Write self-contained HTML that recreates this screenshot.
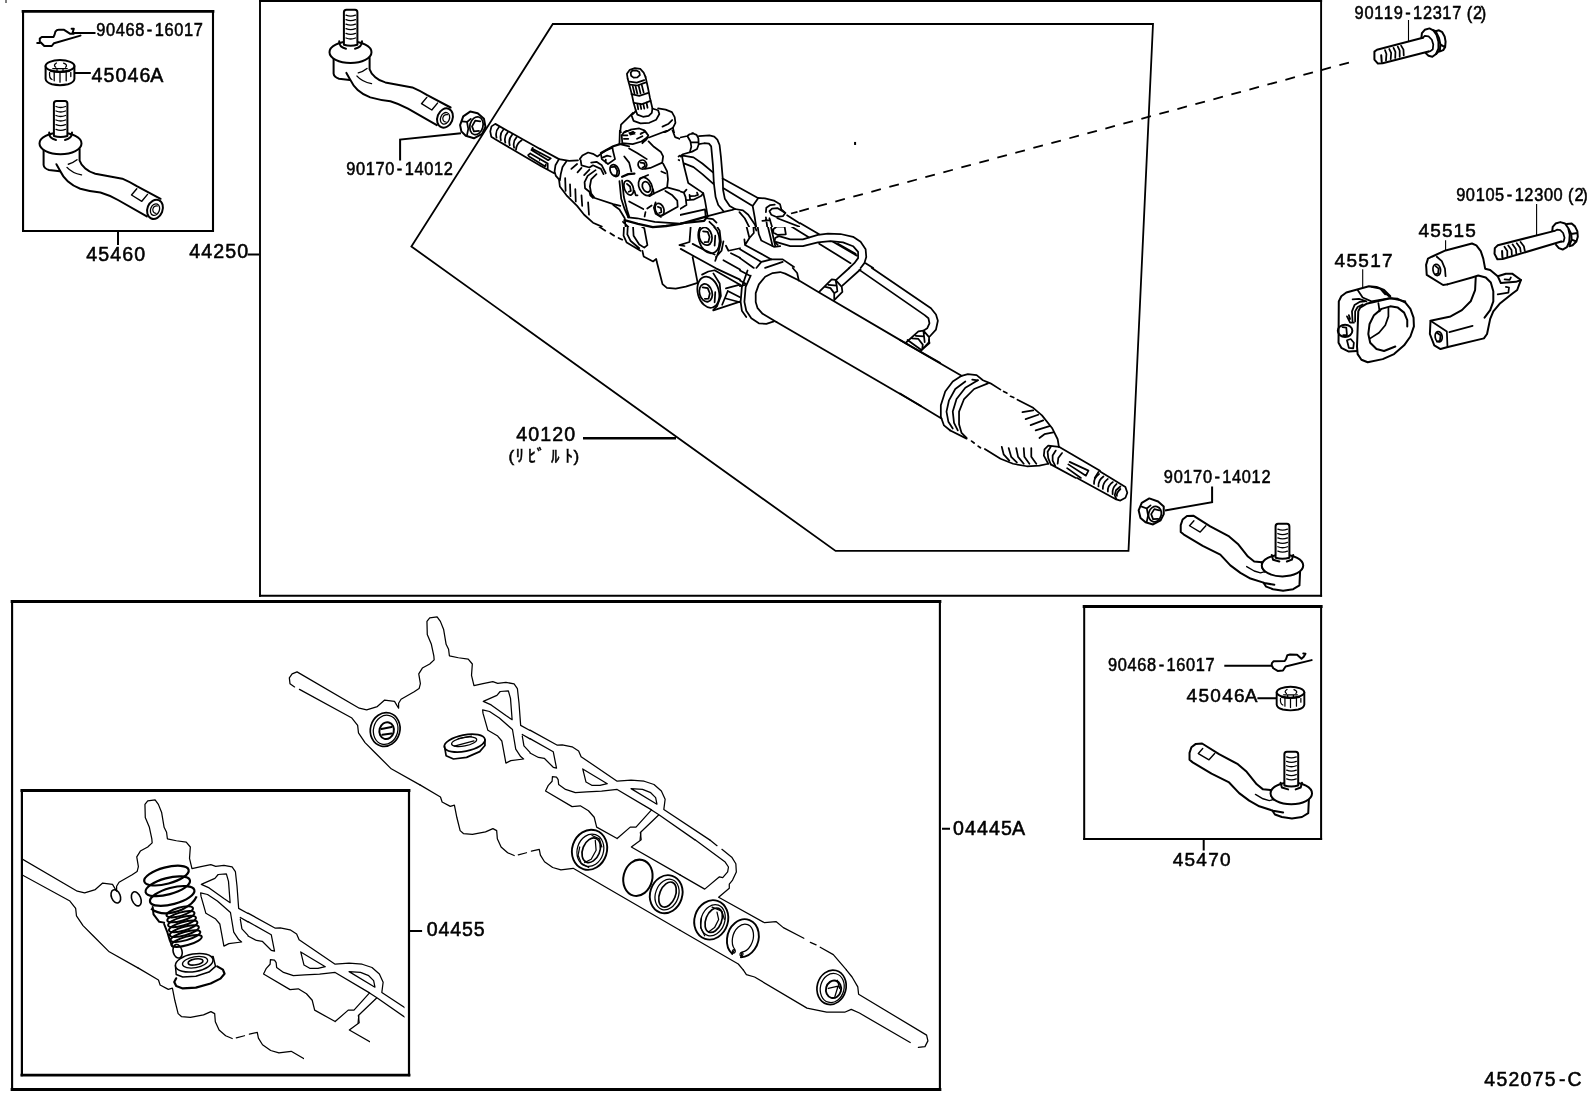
<!DOCTYPE html>
<html lang="ja">
<head>
<meta charset="utf-8">
<title>452075-C</title>
<style>
html,body{margin:0;padding:0;background:#fff;}
body{width:1592px;height:1099px;overflow:hidden;position:relative;}
svg{position:absolute;left:0;top:0;display:block;}
text{font-family:"Liberation Sans","Noto Sans CJK JP",sans-serif;fill:#000;}
.bx{fill:none;stroke:#000;stroke-width:2;}
.ln{fill:none;stroke:#000;stroke-width:1.75;stroke-linecap:round;stroke-linejoin:round;}
.lw{fill:#fff;stroke:#000;stroke-width:1.75;stroke-linecap:round;stroke-linejoin:round;}
.tk{fill:none;stroke:#000;stroke-width:2;stroke-linecap:round;stroke-linejoin:round;}
.tw{fill:#fff;stroke:#000;stroke-width:2;stroke-linecap:round;stroke-linejoin:round;}
.ld{fill:none;stroke:#000;stroke-width:1.5;}
.th{fill:none;stroke:#000;stroke-width:1.25;stroke-linecap:round;stroke-linejoin:round;}
.tf{fill:#fff;stroke:#000;stroke-width:1.25;stroke-linecap:round;stroke-linejoin:round;}
.v *{vector-effect:non-scaling-stroke;}
text{stroke:#000;stroke-width:0.55px;}
</style>
</head>
<body>
<svg width="1592" height="1099" viewBox="0 0 1592 1099">
<rect x="0" y="0" width="1592" height="1099" fill="#fff"/>
<defs>
<g id="clipA">
<path class="tk" d="M37.2,43 L39.8,43 M39.8,42.6 L39.8,38.6 L41.8,36.9 L53.6,36.9 Q54.8,34.5 55.4,31.6 Q56.8,29.8 58.7,29.8 L64.1,29.8 L70.3,33.8 L73.7,33.8 M39.8,41.5 L44.3,46 L51.8,46 L54,43.2 L80.5,35.6 M71.6,28.8 L73.8,28.8 L72.6,32.8"/>
</g>
<g id="nutA">
<path class="tw" d="M45.6,66 L45.6,79 Q46,82.5 52,84.3 Q60,86 68,84.3 Q74,82.5 74.4,79 L74.4,66 Z"/>
<ellipse class="tw" cx="60" cy="66" rx="14.4" ry="5.9"/>
<path class="tk" style="stroke-width:1.3" d="M56.4,63 Q52.8,65.2 55.8,67.2 M63.6,63.2 Q68.2,65 65.6,67.2 M52.8,68.7 L67.2,68.7 M54.2,71.5 L54.2,80.8 M60,72 L60,82.2 M66.2,71.5 L66.2,80.8 M49.6,72.5 Q49,78.5 52,79.5 M70.8,72.5 L70.8,76.5 M57,71 L57,68.7 M63,71 L63,68.7"/>
<path class="tk" style="stroke-width:2.4" d="M51,70.8 Q60,73 69,70.8"/>
</g>
<g id="tieA">
<path class="tw" d="M43.6,148 L43.6,165 Q44,168.5 49,170 L60,171.5 L79.6,160 L79.6,148 Z" style="stroke:none"/>
<path class="tk" d="M43.6,149 L43.6,165 Q44,168.5 49,170 L59.8,171.3"/>
<path class="tk" d="M56.4,164.2 Q58,167 60.2,171 Q63,177 67.7,181.2 Q73,186 80.3,188.7 Q90,191.5 100.4,192.5 Q109,195 118,200 L146.8,216.4"/>
<path class="tk" d="M79.6,149 L79.6,160.5 Q81,165 85.3,168.6 Q89,172 95.3,173.7 Q108,176 122.3,178.7 Q130,182 136.8,186.2 L160.6,198.8"/>
<ellipse class="tw" cx="155" cy="209.3" rx="7.6" ry="9.9" transform="rotate(22 155 209.3)"/>
<ellipse class="tk" cx="155" cy="209.6" rx="4.4" ry="6" transform="rotate(22 155 209.6)" style="stroke-width:1.3"/>
<path class="tk" d="M157.5,206 Q153.5,205.5 152.8,209.5 Q152.8,213 156,213.3" style="stroke-width:1.2"/>
<path class="tk" d="M136.8,188.7 L131.5,195 L141.8,201.3 L147.5,194.4" style="stroke-width:1.4"/>
<path class="tk" d="M77,159.8 Q73,163 68.3,164.2 M67,167.4 Q72,173 81.5,174.9" style="stroke-width:1.4"/>
<ellipse class="tw" cx="60.5" cy="143.5" rx="21" ry="10.7"/>
<path class="tk" d="M49.2,132.5 Q49,138.5 56,140 M72,132.5 Q72,138.5 65,140" />
<path class="tw" d="M53.9,136 L53.9,103.5 Q53.9,101 56.5,101 L65,101 Q67.4,101 67.4,103.5 L67.4,136 Q60.6,138 53.9,136 Z"/>
<path class="tk" style="stroke-width:1.3" d="M56,106.5 Q60.6,108.5 65.5,106.5 M56,111 Q60.6,113 65.5,111 M56,115.5 Q60.6,117.5 65.5,115.5 M56,120 Q60.6,122 65.5,120 M56,124.7 Q60.6,126.7 65.5,124.7 M56,129.3 Q60.6,131.3 65.5,129.3"/>
</g>
<g id="tieB">
<g class="v" transform="translate(1160,500) scale(0.125628)">
<path class="tw" d="M810,495 L815,540 L835,570 L825,660 L845,690 L900,710 L980,722 L1060,710 L1110,680 L1115,560 Z" style="stroke:none"/>
<path class="tk" d="M810,495 L750,490 L700,450 L620,350 L550,290 L400,210 L265,125 L215,128 L180,155 L165,200 L165,255 L190,275 L340,365 L480,435 L560,520 L640,580 L720,625 L830,660 L910,675"/>
<path class="tk" style="stroke-width:1.4" d="M270,165 L235,205 L320,255 L365,205 M690,530 L750,565 L800,580 L835,570"/>
<path class="tk" d="M810,495 L815,540 L835,570 M1115,570 L1110,680 L1060,710 L980,722 L900,710 L845,690 L825,660"/>
<ellipse class="tw" cx="975" cy="522" rx="165" ry="86"/>
<path class="tk" d="M890,438 L900,475 L950,490 M1060,438 L1050,475 L1010,490"/>
<path class="tw" d="M920,460 L920,210 Q920,190 940,190 L1010,190 Q1030,190 1030,210 L1030,460 Q975,475 920,460 Z"/>
<path class="tk" style="stroke-width:1.3" d="M938,232 Q975,248 1015,232 M938,267 Q975,283 1015,267 M938,302 Q975,318 1015,302 M938,337 Q975,353 1015,337 M938,372 Q975,388 1015,372 M938,407 Q975,423 1015,407"/>
</g>
</g>
<g id="kitO">
<g class="v" transform="translate(270,605) scale(0.163827)">
<path class="th" d="M150,500 L122,480 L118,445 L135,420 L165,408 L545,630 L590,640 L655,620 L700,580 L760,588 L785,630 L785,600 L800,575 L880,530 L910,510 L918,480 L908,420 L930,385 L975,360 L1002,335 L1000,310 L985,240 L960,180 L958,100 L975,78 L1020,72 L1040,100 L1060,150 L1075,240 L1090,270 L1095,310 L1150,322 L1210,330 L1235,360 L1230,430 L1245,492 L1300,480 L1360,468 L1390,478 L1440,472 L1490,482 L1510,510 L1520,600 L1530,735 L1587,766"/>
<path class="th" d="M180,515 L500,690 L535,735 L540,780 L580,840 L640,900 L740,1000 L915,1098"/>
<path class="th" d="M1302,588 L1385,552 L1405,528 L1455,524 L1468,570 L1478,700 L1440,675 L1350,610 Z"/>
<path class="th" d="M1298,640 L1340,650 L1400,690 L1480,760 L1500,880 L1530,925 L1548,940 L1470,950 L1440,965 L1415,830 L1390,800 L1330,765 L1300,660 Z M1540,790 L1587,817 M1540,800 L1550,860 L1587,900"/>
</g>
<g class="v" transform="translate(500,660) scale(0.163827)">
<path class="th" d="M183,428 L350,520 L380,518 L440,530 L480,555 L495,590 L715,740 L800,733 L880,740 L940,760 L985,800 L1008,850 L1000,912 L1280,1098"/>
<path class="th" d="M183,480 L325,560 L345,660 L325,655 L270,600 L235,595 L183,568"/>
<path class="th" d="M715,1090 L795,1020 L830,1020 L925,915 L715,790 L620,800 L530,805 L460,810 L400,790 L358,760 L355,730 L345,715 L320,712 L318,740 L295,765 L278,800 L440,895 L490,890 L540,920 L575,960 L590,1020 L715,1090"/>
<path class="th" d="M505,665 L655,755 L610,765 L560,765 L525,745 Z M800,785 L870,790 L920,810 L950,840 L958,880 Z"/>
<path class="th" d="M925,915 L970,945 L860,1050 L855,1098 M970,945 L1190,1098"/>
</g>
<g class="v" transform="translate(420,770) scale(0.163827)">
<path class="th" d="M0,91 L125,165 L135,195 L185,222 L210,215 L225,290 L245,370 L265,388 L320,393 L400,378 L445,358 L468,370 L472,420 L495,470 L535,505 L575,522 M600,518 L650,505 M680,495 L728,485 L735,520 L760,560 L810,595 L860,610 L935,600 L1587,978"/>
<path class="th" d="M1345,380 L1350,425 L1290,470 L1587,640"/>
</g>
<g class="v" transform="translate(640,790) scale(0.163827)">
<path class="th" d="M425,304 L470,340 M500,362 L560,410 L585,450 L588,500 L565,550 L545,575 L545,600 L480,655 L760,810 L830,803 L875,840 L1000,905 M1040,930 L1075,945 M1100,960 L1180,1005 L1260,1098"/>
<path class="th" d="M336,304 L520,440 L540,470 L535,500 L505,535 L485,530 L395,605 L244,518 M244,856 L600,1062 L630,1098"/>
</g>
<g class="v" transform="translate(730,900) scale(0.163827)">
<path class="th" d="M81,427 L100,455 L150,470 L470,660 L590,685 L700,685 L740,668 L790,690 L1100,870 M1150,900 L1190,895 L1208,860 L1200,825 L785,575 L780,530 L745,470 L710,427"/>
</g>
</g>
<clipPath id="insetClip"><polygon points="23,791 404.5,791 404.5,1025 370,1025 370,1051 304,1051 304,1074 23,1074"/></clipPath>
<clipPath id="exG1"><path clip-rule="evenodd" d="M0,0 H1592 V1099 H0 Z M540,133 H800 V227 H540 Z"/></clipPath>
</defs>
<!-- FRAMES -->
<g id="frames" fill="none" stroke="#000" stroke-linecap="square">
<line x1="6" y1="0" x2="6" y2="2.5" stroke-width="1"/>
<!-- box 45460 -->
<path stroke-width="2.7" d="M23,11.35 H213"/><path stroke-width="1.9" d="M23,231 H213"/>
<path stroke-width="2.1" d="M23.05,11.35 V231 M213,11.35 V231"/>
<!-- box 44250 -->
<path stroke-width="2" d="M260,1 H1321.1 M260,595.8 H1321.1"/>
<path stroke-width="1.9" d="M260,1 V595.8 M1321.1,1 V595.8"/>
<!-- box 45470 -->
<path stroke-width="3" d="M1084.2,606.5 H1321.1"/><path stroke-width="2" d="M1084.2,838.9 H1321.1"/>
<path stroke-width="2" d="M1084.2,606.5 V838.9 M1321.1,606.5 V838.9"/>
<!-- box 04445A -->
<path stroke-width="2.9" d="M12.1,601.45 H939.9 M12.1,1089.5 H939.9"/>
<path stroke-width="2.1" d="M12.1,601.45 V1089.5 M939.9,601.45 V1089.5"/>
<!-- box 04455 -->
<path stroke-width="2.8" d="M21.9,790.5 H409 M21.9,1075.1 H409"/>
<path stroke-width="2.2" d="M21.9,790.5 V1075.1 M409,790.5 V1075.1"/>
<polygon points="552.8,24 1153,24 1128.5,550.9 835.6,550.9 411.4,246.5" stroke-width="1.8" stroke-linecap="butt"/>
</g>
<!-- LEADERS -->
<g id="leaders">
<path class="ld" style="stroke-width:2" d="M72.5,33 L95.5,33 M74.7,73 L90.8,73 M118,232 L118,245 M942,828.7 L950,828.7 M410,930.9 L422.1,930.9 M1224.3,665.8 L1272,665.8 M1257.4,698.3 L1276.3,698.3 M1203.7,840 L1203.7,850.6 M247.5,254.5 L259,254.5 M400.1,160.4 L400.1,139.6 L461,133.3 M1212.1,486.5 L1212.1,502.2 L1165,510.4"/>
<path class="ld" style="stroke-width:2.6" d="M583,438.3 L676,438.3"/>
</g>
<!-- PARTS -->
<g id="parts">
<use href="#clipA"/>
<use href="#nutA"/>
<use href="#tieA"/>
<use href="#tieA" transform="translate(290,-91.3)"/>
<use href="#tieB"/>
<use href="#tieB" transform="translate(8.8,227.8)"/>
<use href="#nutA" transform="translate(1290.5,698.9) scale(0.96,0.94) translate(-60,-73)"/>
<g class="v" transform="translate(1200,640) scale(0.08826)">
<path class="tk" d="M812,285 L815,262 L835,240 L960,238 L975,215 L990,172 L1020,165 L1100,168 L1150,212 L1175,190 L1195,155 L1170,152 M812,285 L830,320 L880,350 L940,345 L970,300 L1265,228"/>
</g>
</g>
<!-- gearA -->
<g clip-path="url(#exG1)">
<g class="v" transform="translate(540,60) scale(0.125628)">
<path class="ln" d="M698,150 L692,110 L715,78 L755,65 L798,70 L825,100 L840,135"/>
<path class="ln" d="M722,100 L735,85 L765,82 L790,95 L795,120 L775,138 L745,140 L725,125 Z"/>
<path class="ln" d="M698,150 L712,200 L730,270 L745,340 L762,400 M840,135 L858,215 L875,300 L895,385"/>
<path class="ln" d="M712,172 L770,180 L830,160 M716,196 L775,203 L838,180 M728,272 L790,285 L862,262 M746,342 L810,352 L880,325"/>
<path class="ln" d="M738,208 L752,265 M760,207 L775,268 M785,203 L800,265 M810,198 L825,258 M775,352 L782,392 M798,352 L806,390 M822,347 L830,387 M848,340 L856,380"/>
<path class="ln" d="M762,400 L775,435 L820,452 L865,445 L890,420 L895,385"/>
<path class="ln" d="M760,410 L728,440 L745,485 L800,505 L870,500 L925,475 L950,430 L940,400 L900,388"/>
<path class="ln" d="M740,420 L690,470 L645,515 L640,560 L648,600 L632,660"/>
<path class="ln" d="M940,385 L1000,395 L1050,415 L1072,455 L1078,500 L1058,540"/>
<path class="ln" d="M875,612 L960,590 L1020,562 L1058,540 L1080,630 L1130,612 L1180,600"/>
<path class="ln" d="M975,530 L1020,510 L1052,478"/>
<path class="ln" d="M650,600 L670,575 L720,555 L790,545 L830,560 L862,600 L840,640 L770,665 L700,672 L655,655 Z"/>
<path class="ln" d="M700,590 L740,572 L765,588 L730,606 Z M665,630 L700,625 M790,590 L820,580 M812,662 L858,612"/>
<!-- fitting nub and pipe -->
<path class="ln" d="M1180,600 L1215,582 L1248,600 L1265,650 L1250,700 L1215,722 L1195,720 M1180,600 L1200,660 L1195,720"/>
<path class="ln" d="M1268,608 L1380,598 L1418,628 L1435,700 L1450,860 L1462,938 L1592,1000"/>
<path class="ln" d="M1265,690 L1350,665 L1366,720 L1385,900 L1398,1000 L1410,1098"/>
<path class="ln" d="M1195,720 L1120,760 L1100,800 M1120,760 L1185,965 L1300,1040 L1310,1098"/>
<path class="ln" d="M1130,770 L1240,810 L1390,905 M1140,832 L1260,895 L1395,995 M1460,940 L1592,1005 M1470,985 L1592,1045"/>
<!-- valve body -->
<path class="ln" d="M632,660 L560,690 L490,730 M870,640 L960,740 L985,810 L860,870 M710,700 L790,740 L850,790 M672,770 L715,820 L730,890"/>
<path class="ln" d="M585,700 L600,790 L560,850 L545,900 L560,940 L640,935 L750,905"/>
<path class="ln" d="M960,870 L1010,900 L1022,1000 L905,1060 M1022,1010 L1160,1050 L1180,1098 M965,880 L990,920"/>
<ellipse class="ln" cx="820" cy="830" rx="42" ry="38" transform="rotate(30 820 830)"/>
<path class="ln" d="M805,812 L835,815 L840,845 L815,850"/>
<ellipse class="ln" cx="595" cy="880" rx="38" ry="52" transform="rotate(-20 595 880)"/>
<path class="ln" d="M580,850 L610,870 L615,910 L590,915"/>
<ellipse class="ln" cx="845" cy="1000" rx="50" ry="70" transform="rotate(-25 845 1000)"/>
<path class="ln" d="M830,965 L865,990 L868,1040 L840,1045"/>
<ellipse class="ln" cx="705" cy="1015" rx="40" ry="65" transform="rotate(-20 705 1015)"/>
<path class="ln" d="M690,985 L720,1005 L725,1050 L700,1055 M640,940 L650,1098"/>
<!-- small fitting cluster left -->
<path class="ln" d="M490,730 L480,790 L510,850 L545,900 M500,760 L540,740 L575,760 L580,810 L545,830 L510,815 Z"/>
<path class="ln" d="M320,790 L350,750 L400,735 L450,760 L470,800 M330,830 L400,800 L450,815 M400,830 L440,870 L500,890 M330,790 L320,830 L345,860 L300,900"/>
<!-- boot left start -->
<path class="ln" d="M0,705 L180,805 L310,790 M0,790 L120,860 M0,740 L100,800 L70,830 L0,800"/>
<path class="ln" d="M130,830 L115,890 L140,945 M180,810 L160,870 L170,940 M140,945 L160,1010 L215,1098"/>
<path class="ln" d="M250,870 L300,830 M300,890 L330,850 M195,960 L200,1020 M240,990 L245,1060 M285,1030 L288,1098 M330,1070 L332,1098"/>
<path class="ln" d="M440,880 L390,920 L360,980 L375,1040 L420,1098 M470,900 L420,940 L400,1000 L410,1050"/>
</g>
</g>

<!-- _gearP1 -->
<svg x="540" y="130" width="140" height="97" viewBox="0 0 1586 1099" overflow="hidden">
<g class="v">
<path class="ln" d="M0,212 L215,330 L330,350 L430,345 M0,402 L160,490"/>
<path class="ln" d="M215,330 L175,400 L165,470 L180,520 L215,560 M300,355 L255,420 L235,500 L225,570"/>
<path class="ln" d="M215,560 L225,640 L300,740 L420,860 L500,960 L600,1050 L700,1095"/>
<path class="ln" d="M285,545 L290,690 M340,615 L345,750 M400,670 L405,810 M470,740 L478,860 M545,820 L555,960 M355,440 L420,385 M425,480 L470,430 M500,510 L560,450"/>
<path class="ln" d="M450,330 L480,290 L545,255 L600,270 L650,300 L690,270 M460,340 L470,400 L560,425 L600,400 L690,440 L720,500 M580,370 L640,360 L700,400 L745,490"/>
<path class="ln" d="M690,270 L760,225 L820,200 L830,250 L850,330 L770,385 L700,330 Z M715,310 L760,290 L800,300 M745,335 L745,370"/>
<ellipse class="ln" cx="845" cy="460" rx="48" ry="70" transform="rotate(-25 845 460)"/>
<path class="ln" d="M810,420 L850,415 L875,460 L870,510 L840,515"/>
<path class="ln" d="M630,455 L540,520 L505,590 L510,660 L560,700 L570,740 L600,770 M640,500 L580,560 L565,640 L580,720 L620,770 L830,840 L910,860"/>
<path class="ln" d="M900,580 L920,780 L960,900 L1000,990 M930,570 L950,760 L985,900 L1010,980"/>
<ellipse class="ln" cx="1005" cy="655" rx="50" ry="85" transform="rotate(-20 1005 655)"/>
<path class="ln" d="M985,610 L1020,640 L1030,690 L1005,700 M1070,690 L1085,740 L1105,740"/>
<ellipse class="ln" cx="1195" cy="640" rx="72" ry="108" transform="rotate(-25 1195 640)"/>
<ellipse class="ln" cx="1205" cy="645" rx="42" ry="62" transform="rotate(-25 1205 645)"/>
<path class="ln" d="M1130,550 L1225,510 M1280,670 L1290,720 M1010,810 L1170,895 M1215,890 L1265,855 M1195,930 L1185,980"/>
<ellipse class="ln" cx="1355" cy="900" rx="48" ry="72" transform="rotate(-20 1355 900)"/>
<path class="ln" d="M1335,870 L1370,885 L1375,930 L1350,940 M1310,820 L1290,880 L1310,950 L1370,985"/>
<path class="ln" d="M1230,130 L1290,190 L1370,250 L1395,300 L1385,370 L1250,430 L1190,440 M1395,380 L1440,470 L1450,560 L1440,650 L1290,720 L1240,750 M1375,470 L1420,490 M1440,650 L1586,690 M1420,690 L1500,740 L1555,800 L1560,870 L1380,970"/>
<path class="ln" d="M1000,990 L1100,1000 L1300,1040 L1586,1060"/>
<path class="ln" style="stroke-width:2.2" d="M930,530 L1000,500 L1070,495 M690,260 L830,185 L905,160"/>
<path class="ln" d="M830,850 L900,900 L960,1000 L970,1098 M940,1040 L1000,1098"/>
<path class="ln" d="M905,160 L1010,185 M905,0 L900,160 M950,100 L1000,100 M940,60 L990,60 M930,150 L1050,160 L1150,130 L1220,80 M1160,150 L1215,95 M1235,85 L1460,0 M1500,0 L1530,80 L1586,100"/>
<path class="ln" d="M1010,210 L1100,260 L1210,330 M955,300 L1010,370 L1035,470 M1570,300 L1586,290 M1570,340 L1586,345"/>
<ellipse class="ln" cx="1160" cy="392" rx="48" ry="52" transform="rotate(-25 1160 392)"/>
<path class="ln" d="M1140,370 L1180,375 L1190,410 L1160,428"/>
<path d="M1000,30 L1060,18 L1085,48 L1020,62 Z" fill="#000"/>
<path class="ln" d="M925,61 L954,25 L1025,0 M1181,4 L1227,61 L1196,118 M932,139 L925,61"/>
<path class="ln" d="M1140,45 L1185,20 M960,20 L1000,0 M1100,100 L1160,70"/>
</g>
</svg>

<!-- _gearP2 -->
<svg x="680" y="130" width="120" height="97" viewBox="227 0 1359 1099" overflow="hidden">
<g class="v">
<path class="ln" d="M140,0 L175,95 L230,85 L310,68 L335,48 L375,40 L415,55 L435,95 L438,165 L420,215 L365,245 L260,275 L215,305 L210,345 M310,68 L345,130 L355,190 L340,245 M350,140 L435,140 M235,300 L255,285"/>
<path class="ln" d="M440,70 L560,62 L615,75 L650,110 L675,170 L690,300 L710,540 L715,680 L735,780 L790,860 L850,895"/>
<path class="ln" d="M440,160 L500,150 L555,155 L580,185 L600,400 L610,600 L630,760 L660,850 L720,920"/>
<path class="ln" d="M260,290 L380,310 L480,380 L600,480 M265,375 L380,420 L480,500 L605,610 M250,300 L270,400 L320,600 L490,715 L510,800 L540,975"/>
<path class="ln" d="M710,550 L1110,770 L1190,775 L1290,800 L1360,840 L1375,900 L1420,940 M720,660 L1050,860 L1110,775 M1050,860 L1075,1000 L1090,1098"/>
<path class="ln" d="M540,975 L735,925 L820,905 L850,895 L940,910 L1000,960 L1075,1070 L1085,1098 M900,930 L960,1000 L1010,1098"/>
<path class="ln" d="M0,690 L90,650 L270,710 L300,675 M270,710 L290,760 L300,850 L150,940 L60,980 M70,680 L170,760 L200,830 L205,870 M300,795 L380,790 L470,745 L490,715 M335,735 L340,780 M340,750 L400,745 L430,735 L420,710"/>
<path class="ln" d="M150,980 L510,900 L520,1000 M0,1000 L60,1030 L140,960 M0,950 L50,950 L60,920 M540,1000 L600,1010 L640,1050 M560,1040 L620,1098"/>
<path class="ln" style="stroke-width:2.2" d="M80,1075 L500,1030 L540,975"/>
<path class="ln" d="M1200,930 L1205,880 L1250,850 L1300,845 M1240,920 L1270,890 L1330,885 L1420,940 L1395,975 L1320,985 L1260,960 Z M1160,1030 L1250,1020 M1200,990 L1215,1098 M1240,1000 L1270,1098 M1330,1000 L1586,1098 M1440,965 L1586,1060"/>
<path class="ln" d="M0,230 L35,280 L30,370 L15,400 L70,470 L90,570 L90,650 M15,470 L60,500"/>
</g>
</svg>

<!-- _flange -->
<path class="ln" style="stroke-width:2.3" d="M624.5,220.2 L638,223.8 L652.8,227.1 L666,226 L680.4,223.9 L706.8,216.4"/>

<!-- gearB -->
<g clip-path="url(#exG1)">
<g class="v" transform="translate(540,198) scale(0.125628)">
<path class="ln" d="M220,0 L290,70 L400,180 L520,260 M560,280 L590,300 M625,318 L655,332"/>
<path class="ln" d="M330,0 L340,60 M380,40 L390,140 L410,180 M288,0 L292,30"/>
<path class="ln" d="M420,0 L560,40 L650,110 L670,170 M640,0 L690,170 M710,30 L820,85 M855,85 L890,60 M830,110 L835,160"/>
<ellipse class="ln" cx="955" cy="95" rx="38" ry="48" transform="rotate(-20 955 95)"/>
<path class="ln" d="M940,75 L970,88 L966,120 M890,88 L915,150 L975,165 L1050,130"/>
<path class="ln" d="M1060,0 L1100,60 L990,130 M1165,60 L1050,130 L1000,210 M1170,0 L1165,60 M1300,0 L1330,170"/>
<path class="ln" style="stroke-width:2" d="M690,170 L760,195 L880,225 L1000,222 L1200,195 L1330,170"/>
<path class="ln" d="M1330,170 L1480,100 L1592,85 M700,150 L840,165 L1010,135 L1310,90 M1400,0 L1430,60 L1480,100 M1470,0 L1520,60 L1592,90"/>
<path class="ln" d="M670,195 L665,300 L690,355 L800,420 M700,200 L695,290 L720,340 L790,400 M740,215 L745,300 L790,370 L830,395 L855,375 L830,240 M760,195 L830,240"/>
<path class="ln" d="M815,420 L825,465 L900,505 L925,485 L930,510 L975,685 L1010,715 L1080,722 L1160,705 L1255,675"/>
<path class="ln" d="M1200,220 L1190,350 L1110,375 L1150,382 M1120,405 L1230,465 L1400,560 L1592,650 M1215,365 L1300,410 L1390,450 M1215,470 L1255,675"/>
<ellipse class="ln" cx="1345" cy="320" rx="82" ry="122" transform="rotate(-15 1345 320)"/>
<ellipse class="ln" cx="1318" cy="305" rx="50" ry="72" transform="rotate(-15 1318 305)"/>
<path class="ln" d="M1298,265 L1335,270 L1350,310 L1340,350 L1310,352 M1380,180 L1430,260 L1440,350 L1420,430 L1395,500 M1460,345 L1445,420 L1400,470 M1395,300 L1390,380"/>
<ellipse class="ln" cx="1340" cy="750" rx="84" ry="126" transform="rotate(-15 1340 750)"/>
<ellipse class="ln" cx="1320" cy="755" rx="50" ry="72" transform="rotate(-15 1320 755)"/>
<path class="ln" d="M1295,712 L1335,718 L1352,760 L1342,800 L1312,802 M1290,610 L1340,585 L1390,575 L1592,690 M1380,600 L1430,680 L1440,780 L1410,860 L1380,890 M1395,750 L1390,830"/>
<path class="ln" d="M1380,895 L1592,825 M1495,740 L1592,790 M1480,800 L1592,830 M1495,740 L1450,850 M1480,720 L1592,690"/>
<path class="ln" d="M1480,380 L1500,420 L1592,400 M1520,440 L1592,475 M1460,495 L1592,570"/>
</g>
</g>

<!-- gearC -->
<g clip-path="url(#exG1)">
<g class="v" transform="translate(740,130) scale(0.125628)">
<path class="ln" d="M0,455 L150,545 L250,565 L320,600 L325,640 L362,668 M0,540 L110,600 L150,545 M110,600 L130,700 L150,830 L170,880 L270,930 L320,925"/>
<path class="ln" d="M205,650 L215,610 L250,590 L310,600 M240,640 L265,625 L325,640 L362,668 L330,690 L270,690 L240,665 Z"/>
<path class="ln" d="M180,720 L240,715 M205,695 L215,740 L260,925 M235,720 L280,920 M265,790 L290,770 L355,770 L365,830 L300,835 L265,815 Z M290,740 L350,740"/>
<path class="ln" d="M375,680 L630,830 M300,700 L550,855"/>
<path class="ln" d="M300,915 L275,890 L280,860 L310,845 L400,870 L500,870 L620,835 L700,825 L800,828 L900,850 L960,890 L1000,950 L1005,1010 L990,1060 L960,1098"/>
<path class="ln" d="M285,890 L400,925 L500,925 L620,895 L720,885 L820,895 L900,925 L940,970 L940,1020 L910,1060 L870,1098"/>
<path class="ln" d="M630,905 L880,1060 M740,890 L930,1000 M780,905 L920,985 M1000,1060 L1060,1098"/>
<path class="ln" d="M0,650 L30,640 L60,660 L110,740 L130,800 M0,670 L50,760 L75,860 L110,820 L105,740 M35,870 L40,915 L75,860 M40,915 L250,1030 L340,1030 L430,1090"/>
<path class="ln" d="M0,950 L170,1050 L130,1098 M0,1020 L110,1098 M170,1050 L250,1030 M200,1098 L340,1050"/>
<rect x="908" y="95" width="16" height="24" fill="#000"/>
</g>
</g>
<path d="M799.3,211.3 L1349,62.6" fill="none" stroke="#000" stroke-width="1.8" stroke-dasharray="9.9 8.75"/>
<path d="M791,213.5 L797.5,211.8" fill="none" stroke="#000" stroke-width="1.8"/>

<!-- tubeA -->
<g class="v" transform="translate(740,268) scale(0.125628)">
<path class="ln" d="M290,430 L180,365 L140,320 L125,270 L125,200 L150,130 L200,70 L260,40 L320,32 L360,45 L470,100 L630,195 L1320,600 L1592,755"/>
<path class="ln" d="M290,430 L1440,1098"/>
<path class="ln" d="M85,60 L45,150 L35,270 L50,340 L90,400 L150,440 L210,445 L270,425 M60,20 L15,150 L5,270 L15,340 L50,390 M420,0 L455,40 L468,100"/>
<path class="ln" d="M0,20 L75,60 M0,100 L45,125 M0,145 L40,135"/>
<path class="ln" d="M630,190 L730,90 L760,95 L810,150 L815,190 L750,255 M680,150 L720,160 L750,200 L750,250 M705,135 L770,140 L775,185 L750,200 M760,95 L770,140"/>
<path class="ln" d="M770,90 L870,0 M815,140 L960,10"/>
<path class="ln" d="M1050,0 L1520,320 L1560,370 L1575,420 L1560,490 L1510,545 M950,15 L1470,375 L1500,400 L1508,440 L1490,480 L1460,500"/>
<path class="ln" d="M1320,595 L1420,505 L1460,498 L1505,550 L1505,590 L1440,660 M1370,560 L1420,565 L1455,610 L1450,650 M1400,540 L1465,545 L1470,590 M1460,498 L1465,545"/>
</g>

<!-- tubeB -->
<g class="v" transform="translate(900,340) scale(0.125628)">
<path class="ln" d="M0,0 L180,105 L490,285 M60,0 L170,80 L235,25 L230,0 M0,425 L330,625"/>
<path class="ln" d="M490,285 L420,330 L360,410 L325,520 L325,610 L350,680 L400,720 M520,330 L440,390 L390,480 L370,570 L385,650 L420,705 M620,320 L520,380 L450,470 L420,570 L430,660 L460,720 M700,345 L590,390 L510,470 L470,570 L470,670 L490,740 L530,780"/>
<path class="ln" d="M490,285 L540,272 L610,280 L660,320 L720,345 L800,395 M575,315 L620,322"/>
<path class="ln" d="M825,410 L850,422 M880,448 L905,458 M935,475 L1060,540 L1130,600 L1210,700 L1255,790 L1265,850"/>
<path class="ln" d="M400,720 L530,785 M570,805 L590,820 M622,845 L640,858 M675,868 L800,945 L900,985 L1010,1005 L1110,1000 L1180,985"/>
<path class="ln" d="M975,575 L1060,560 M1000,630 L1100,595 M1040,678 L1140,640 M1080,720 L1190,685 M1110,780 L1150,750 L1220,735"/>
<path class="ln" d="M810,850 L825,910 L870,960 M865,860 L885,930 L930,975 M925,860 L940,930 L985,985 M985,860 L990,930 L1030,985 M1045,860 L1045,930 L1085,985"/>
<path class="ln" d="M1265,850 L1180,840 L1150,870 L1145,920 L1180,985 M1200,850 L1175,890 L1180,940 L1200,990 M1240,880 L1215,920 L1215,960 L1235,1000"/>
<path class="ln" d="M1265,850 L1592,1040 M1200,990 L1400,1098 M1290,900 L1260,940 L1255,985 M1350,970 L1500,1040 L1480,1080 M1340,990 L1480,1080 M1330,1020 L1440,1098 M1550,1098 L1580,1050"/>
</g>

<!-- rodR -->
<g class="v" transform="translate(1040,440) scale(0.125628)">
<path class="ln" d="M478,251 L680,375 L695,420 L680,460 L640,482 L600,470 L295,302 M640,370 L605,400 L595,440 L610,475"/>
<path class="ln" d="M470,270 Q427.0,300 430,350 M505,290 Q462.0,320 465,370 M540,310 Q497.0,345 500,390 M580,335 Q537.0,365 540,410 M610,350 Q572.0,385 578,430 M640,390 Q607.0,420 612,445"/>
<path class="tk" d="M785,560 L810,500 L870,465 L940,490 L985,530 L985,590 L960,640 L900,672 L840,655 L800,620 Z"/>
<ellipse class="ln" cx="915" cy="590" rx="50" ry="62" transform="rotate(15 915 590)"/>
<path class="ln" d="M950,560 L910,550 L885,590 L900,630 L940,628 M810,530 L850,545 L860,600 L850,650 M850,545 L880,520"/>
</g>

<!-- rodL -->
<g class="v" transform="translate(440,100) scale(0.125628)">
<path class="ln" d="M796,390 L440,190 L410,210 L400,250 L408,292 L440,312 L796,522"/>
<path class="ln" d="M470,215 Q437.0,250 450,300 M505,235 Q472.0,270 485,320 M540,255 Q507.0,290 520,340 M575,275 Q542.0,310 555,360 M610,295 Q577.0,330 590,380 M650,320 Q607.0,350 605,395"/>
<path class="tk" d="M160,200 L185,130 L240,92 L300,105 L350,150 L362,215 L335,270 L270,305 L205,285 L170,250 Z"/>
<ellipse class="ln" cx="290" cy="205" rx="52" ry="72" transform="rotate(15 290 205)"/>
<path class="ln" d="M320,170 L280,165 L255,210 L270,250 L310,245 M175,170 L215,175 L225,230 L215,280 M215,175 L245,150"/>
</g>

<!-- _slot -->
<path class="ln" d="M532.7,147.8 L531.4,150.1 L548.2,160.2 L550.8,158.4 M533.4,149.3 L550.3,158.3 M530.2,153.4 L547.7,163.4 L547.7,168.5 M530.2,153.4 L528.1,155.1 L529.1,156.6 L545.2,166.4 L545.7,164.7"/>

<!-- bolts -->
<g class="v" transform="translate(1350,0) scale(0.094634)">
<path class="tk" d="M770,398 L285,525 L258,545 L258,630 L295,672 L345,668 L830,545 M330,585 L335,650"/>
<path class="ln" d="M370,530 L385,570 L380,640 M415,518 L435,560 L430,625 M460,505 L480,548 L478,612 M505,492 L525,535 L525,600 M540,482 L565,525 L568,585"/>
<path class="tk" d="M755,395 L760,350 L790,315 L840,300 L880,320 L915,370 L935,440 L935,510 L910,570 L870,600 L830,590 L800,560"/>
<path class="ln" d="M770,400 L790,380 L830,385 L865,420 L880,470 L875,520 L850,540 L830,545"/>
<path class="tk" d="M905,330 L940,320 L975,340 L1000,385 L1010,440 L1005,500 L985,530 L945,545 M880,320 L905,330 L940,400 L955,470 L950,530 L910,570 M955,470 L1005,500"/>
</g>
<g class="v" transform="translate(1442,180) scale(0.094634)">
<path class="tk" d="M1180,540 L590,690 L558,720 L555,780 L585,838 L640,835 L1260,650 M635,750 L638,815"/>
<path class="ln" d="M660,705 L690,750 L690,805 M700,692 L735,740 L738,790 M745,680 L780,728 L785,775 M790,668 L825,715 L832,760 M830,655 L865,700 L875,748"/>
<path class="tk" d="M1165,540 L1170,495 L1200,460 L1250,445 L1300,460 L1335,510 L1350,580 L1345,650 L1320,710 L1275,735 L1235,720 L1205,685"/>
<path class="ln" d="M1190,540 L1215,525 L1250,530 L1280,560 L1295,610 L1285,650 L1260,650"/>
<path class="tk" d="M1320,465 L1370,460 L1405,490 L1430,540 L1435,600 L1420,650 L1380,690 L1345,700 M1340,520 L1365,570 L1370,630 L1350,680 M1365,570 L1430,560 M1370,630 L1420,650"/>
</g>
<path class="ld" style="stroke-width:1.1" d="M1408.5,20 L1408.5,41.2 M1536.6,204 L1536.6,235 M1445.6,240.2 L1445.6,250.2 M1362.7,269.3 L1362.7,287.5"/>

<!-- brackets -->
<g class="v" transform="translate(1330,236) scale(0.125628)">
<path class="tk" d="M480,480 L430,430 L370,405 L310,400 L130,450 L90,480 L70,520 L68,850 L90,890 L150,920 L215,915"/>
<path class="ln" d="M220,430 L260,490 L330,520 L480,495 L600,520 M330,405 L400,420 L440,465 M420,440 L470,480 M385,535 L395,600"/>
<path class="tk" d="M225,600 L240,570 L290,540 L480,495 L540,500 L600,530 L640,580 L665,650 L668,720 L640,800 L590,870 L510,940 L420,980 L300,1005 L250,985 L220,940 L215,880 Z"/>
<path class="tk" d="M520,880 L430,915 L370,900 L320,850 L305,780 L315,700 L350,630 L410,580 L480,560 L540,570 L590,610 L615,670 L615,720"/>
<path class="ln" d="M465,570 L465,640 L440,710 L390,770 L320,815"/>
<path class="ln" d="M180,505 L230,500 L290,520 M180,690 L175,600 L195,550 L235,525 L275,520 M200,680 L200,600 L220,565 L260,545 M135,640 L160,690 L190,690 M150,630 L160,660"/>
<ellipse class="tk" cx="120" cy="755" rx="58" ry="48"/>
<path class="ln" d="M100,725 L130,730 L135,790 L105,790 M135,830 L165,820 L190,850 L185,895 L150,890 Z"/>
<path class="tk" d="M935,385 L900,390 L770,310 L765,230 L780,180 L810,165 L920,115 L1130,60 L1165,75 L1200,120 L1220,180 L1235,260 L1275,270 L1335,320"/>
<path class="ln" d="M850,165 L890,200 L915,260 L920,320 M840,240 L865,260 L860,300 L835,305"/>
<ellipse class="ln" cx="850" cy="270" rx="30" ry="45" transform="rotate(-10 850 270)"/>
<path class="tk" d="M935,385 L1130,330 L1180,315 L1240,330 L1280,370 L1300,440 L1300,520 L1275,590 L1230,650"/>
<path class="tk" d="M1160,330 L1155,430 L1120,520 L1050,590 L960,640 L800,675 L795,780 L830,870 L880,900 L930,885 L1225,815 L1250,780 L1275,660 L1300,600 L1350,540 L1450,460 L1490,430 L1520,350"/>
<path class="ln" d="M800,675 L930,760 L935,880 M950,765 L1135,715 M850,770 L880,790 L875,835 L850,840"/>
<ellipse class="ln" cx="865" cy="802" rx="28" ry="42" transform="rotate(-10 865 802)"/>
<path class="tk" d="M1335,320 L1400,300 L1450,300 L1520,350 L1480,365 L1360,375 Z"/>
<path class="ln" d="M1390,345 L1430,350 L1440,330 M1335,465 L1420,450 L1425,410 L1400,405"/>
</g>

<!-- kitO -->
<use href="#kitO"/>
<g clip-path="url(#insetClip)"><use href="#kitO" transform="translate(-282,183)"/></g>

<!-- kitA -->
<g class="v" transform="translate(270,605) scale(0.163827)">
<ellipse class="tk" style="stroke-width:1.7" cx="703" cy="760" rx="90" ry="104" transform="rotate(15 703 760)"/>
<ellipse class="th" cx="706" cy="762" rx="74" ry="90" transform="rotate(15 706 762)"/>
<ellipse class="tk" cx="712" cy="767" rx="44" ry="52" transform="rotate(15 712 767)"/>
<path class="tk" d="M680,757 L742,745 M686,792 L742,785"/>
<path class="tk" style="stroke-width:1.7" d="M1065,862 L1075,920 L1120,940 L1200,930 L1280,895 L1312,858 L1312,822"/>
<ellipse class="tk" style="stroke-width:1.7" cx="1188" cy="843" rx="126" ry="50" transform="rotate(-11 1188 843)"/>
<ellipse class="th" cx="1185" cy="835" rx="78" ry="26" transform="rotate(-11 1185 835)"/>
<path class="th" d="M1125,862 L1245,830 M1150,815 L1230,800"/>
</g>

<!-- kitB -->
<g class="v" transform="translate(500,660) scale(0.163827)">

</g>

<!-- kitC -->
<g class="v" transform="translate(420,770) scale(0.163827)">
<ellipse class="tk" style="stroke-width:1.9" cx="1035" cy="487" rx="106" ry="124" transform="rotate(18 1035 487)"/>
<ellipse class="th" cx="1040" cy="490" rx="80" ry="100" transform="rotate(18 1040 490)"/>
<ellipse class="tk" style="stroke-width:1.7" cx="1045" cy="490" rx="52" ry="78" transform="rotate(22 1045 490)"/>
<path class="th" d="M975,470 L965,520 L985,570 L1030,595 M1050,400 L1095,420 L1110,470 M1070,430 L1075,490 L1045,545 L1005,565"/>
<ellipse class="tk" style="stroke-width:2" cx="1330" cy="658" rx="88" ry="112" transform="rotate(14 1330 658)"/>
</g>

<!-- kitD -->
<g class="v" transform="translate(640,790) scale(0.163827)">
<ellipse class="tk" style="stroke-width:1.9" cx="160" cy="636" rx="98" ry="118" transform="rotate(18 160 636)"/>
<ellipse class="th" cx="165" cy="638" rx="70" ry="96" transform="rotate(20 165 638)"/>
<ellipse class="tk" style="stroke-width:1.7" cx="168" cy="638" rx="48" ry="80" transform="rotate(22 168 638)"/>
<ellipse class="tk" style="stroke-width:1.9" cx="435" cy="793" rx="102" ry="122" transform="rotate(18 435 793)"/>
<ellipse class="th" cx="445" cy="795" rx="72" ry="98" transform="rotate(20 445 795)"/>
<ellipse class="tk" style="stroke-width:1.7" cx="450" cy="795" rx="48" ry="78" transform="rotate(22 450 795)"/>
<path class="th" d="M375,780 L370,840 L395,890 M440,715 L500,740 L515,790 M470,745 L480,790 L455,840 L420,865"/>
<g transform="rotate(18 628 905)">
<path class="tk" style="stroke-width:1.9" d="M652.6,1019 A95,118 0 1 0 595.5,1015.9"/>
<path class="th" d="M649.2,987.7 A62,88 0 1 0 601.8,984.8 M652.6,1019 L649.2,987.7 M595.5,1015.9 L601.8,984.8"/>
<ellipse class="th" cx="650" cy="1000" rx="9" ry="11"/>
<ellipse class="th" cx="600" cy="998" rx="9" ry="11"/>
</g>
</g>

<!-- kitE -->
<g class="v" transform="translate(730,900) scale(0.163827)">
<ellipse class="tk" style="stroke-width:1.7" cx="620" cy="533" rx="88" ry="106" transform="rotate(15 620 533)"/>
<ellipse class="th" cx="624" cy="537" rx="72" ry="90" transform="rotate(15 624 537)"/>
<ellipse class="tk" style="stroke-width:1.9" cx="632" cy="545" rx="46" ry="54" transform="rotate(15 632 545)"/>
<path class="tk" style="stroke-width:1.3" d="M600,540 L660,525 L640,590 M655,490 L670,540"/>
</g>

<!-- inset -->
<g class="v" transform="translate(20,785) scale(0.163827)">
<g fill="none" stroke="#000" stroke-width="2.2">
<ellipse cx="894" cy="553" rx="140" ry="50" transform="rotate(-15 894 553)"/>
<ellipse cx="902" cy="618" rx="140" ry="50" transform="rotate(-15 902 618)"/>
<ellipse cx="929" cy="677" rx="140" ry="50" transform="rotate(-15 929 677)"/>
<path d="M800,755 Q870,810 990,760 Q1060,725 1078,680" />
</g>
<g fill="none" stroke="#000" stroke-width="2">
<ellipse cx="975" cy="774" rx="84" ry="26" transform="rotate(-16 975 774)"/>
<ellipse cx="982" cy="804" rx="86" ry="26" transform="rotate(-16 982 804)"/>
<ellipse cx="989" cy="833" rx="88" ry="26" transform="rotate(-16 989 833)"/>
<ellipse cx="996" cy="863" rx="90" ry="26" transform="rotate(-16 996 863)"/>
<ellipse cx="1003" cy="892" rx="92" ry="26" transform="rotate(-16 1003 892)"/>
<ellipse cx="1010" cy="922" rx="94" ry="26" transform="rotate(-16 1010 922)"/>
<ellipse cx="1017" cy="952" rx="96" ry="26" transform="rotate(-16 1017 952)"/>
</g>
<path class="tk" d="M810,745 L815,790 L850,835 L880,840 M880,850 L900,900 L915,950 L930,985"/>
<ellipse class="tk" style="stroke-width:1.6" cx="585" cy="680" rx="27" ry="42" transform="rotate(-22 585 680)"/>
<ellipse class="tk" style="stroke-width:1.6" cx="710" cy="695" rx="27" ry="45" transform="rotate(-22 710 695)"/>
<ellipse class="tk" style="stroke-width:1.6" cx="962" cy="1015" rx="27" ry="42" transform="rotate(-15 962 1015)"/>
</g>
<g class="v" transform="translate(150,900) scale(0.163827)">
<path class="tw" style="stroke-width:1.5" d="M155,400 L160,455 L200,470 L280,465 L360,440 L400,405 L385,345 Z"/>
<ellipse class="tw" style="stroke-width:1.5" cx="270" cy="383" rx="116" ry="54" transform="rotate(-10 270 383)"/>
<ellipse class="th" cx="275" cy="380" rx="78" ry="33" transform="rotate(-10 275 380)"/>
<ellipse class="tk" style="stroke-width:1.5" cx="278" cy="378" rx="46" ry="18" transform="rotate(-10 278 378)"/>
<path class="tk" style="stroke-width:2.2" d="M410,405 L445,425 L455,450 L430,480 L370,510 L280,535 L200,540 L160,525 L148,500 L160,478"/>
</g>

<!-- LABELS -->
<g id="labels" style="opacity:0.999">
<text text-anchor="middle" font-size="18.2" y="35.6" x="112.0 122.8 133.7 144.5 155.3 166.2 177.0 187.8 198.7 209.5 220.3" transform="scale(0.900,1)">90468-16017</text>
<text text-anchor="middle" font-size="19.6" y="82.0" x="97.0 109.0 121.0 132.9 144.9 156.9">45046A</text>
<text text-anchor="middle" font-size="19.6" y="260.6" x="91.8 103.8 115.8 127.8 139.8">45460</text>
<text text-anchor="middle" font-size="19.6" y="257.8" x="194.8 206.8 218.8 230.8 242.8">44250</text>
<text text-anchor="middle" font-size="18.2" y="174.8" x="389.8 400.6 411.4 422.3 433.1 443.9 454.8 465.6 476.4 487.3 498.1" transform="scale(0.900,1)">90170-14012</text>
<text text-anchor="middle" font-size="19.6" y="440.8" x="521.8 533.8 545.8 557.8 569.8">40120</text>
<text text-anchor="middle" font-size="17" y="462.0" x="511.4 519.8 532.1 541.1 555.3 568.8 576.3">(ﾘﾋﾞﾙﾄ)</text>
<text text-anchor="middle" font-size="18.2" y="483.3" x="1298.2 1309.1 1319.9 1330.7 1341.6 1352.4 1363.2 1374.1 1384.9 1395.7 1406.6" transform="scale(0.900,1)">90170-14012</text>
<text text-anchor="middle" font-size="18.2" y="18.8" x="1510.2 1521.1 1531.9 1542.7 1553.6 1564.4 1575.2 1586.1 1596.9 1607.7 1618.6 1625.6 1632.7 1641.7 1648.4" transform="scale(0.900,1)">90119-12317 (2)</text>
<text text-anchor="middle" font-size="18.2" y="201.0" x="1623.0 1633.8 1644.7 1655.5 1666.3 1677.2 1688.0 1698.8 1709.7 1720.5 1731.3 1738.4 1745.4 1754.4 1761.2" transform="scale(0.900,1)">90105-12300 (2)</text>
<text text-anchor="middle" font-size="19.0" y="236.8" x="1423.8 1435.5 1447.2 1458.8 1470.5">45515</text>
<text text-anchor="middle" font-size="19.0" y="266.8" x="1339.8 1351.7 1363.5 1375.5 1387.3">45517</text>
<text text-anchor="middle" font-size="18.2" y="670.9" x="1236.2 1247.1 1257.9 1268.7 1279.6 1290.4 1301.2 1312.1 1322.9 1333.7 1344.6" transform="scale(0.900,1)">90468-16017</text>
<text text-anchor="middle" font-size="19.0" y="701.8" x="1191.8 1203.7 1215.5 1227.5 1239.3 1251.2">45046A</text>
<text text-anchor="middle" font-size="19.0" y="866.4" x="1178.0 1189.8 1201.6 1213.5 1225.2">45470</text>
<text text-anchor="middle" font-size="19.6" y="835.0" x="958.5 970.5 982.5 994.5 1006.5 1018.5">04445A</text>
<text text-anchor="middle" font-size="19.6" y="935.6" x="432.1 443.9 455.8 467.5 479.3">04455</text>
<text text-anchor="middle" font-size="19.4" y="1086.1" x="1489.7 1501.8 1513.9 1526.0 1538.1 1550.2 1562.2 1574.4">452075-C</text>
</g>
</svg>
</body>
</html>
